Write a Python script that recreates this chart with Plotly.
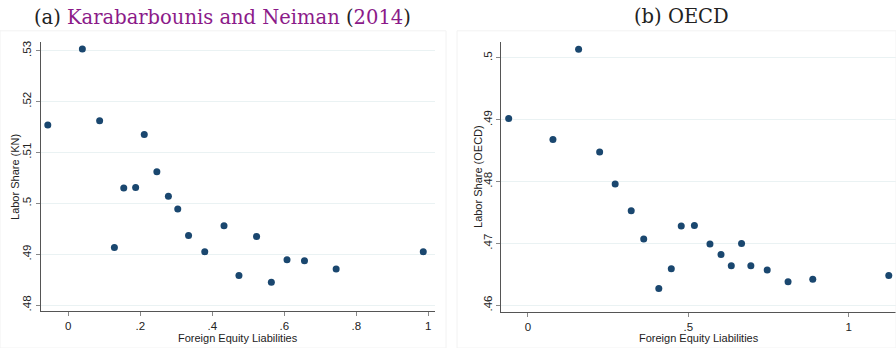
import plotly.graph_objects as go

# Panel (a): Karabarbounis and Neiman (2014)
kn_x = [-0.057, 0.039, 0.087, 0.211, 0.246, 0.154, 0.187, 0.278, 0.304, 0.128,
        0.334, 0.379, 0.4325, 0.474, 0.523, 0.564, 0.6075, 0.656, 0.744, 0.986]
kn_y = [0.5154, 0.5303, 0.5162, 0.5135, 0.5062, 0.5030, 0.5031, 0.5014, 0.4989, 0.4913,
        0.4937, 0.4905, 0.4956, 0.4858, 0.4935, 0.4845, 0.4889, 0.4887, 0.4871, 0.4905]

# Panel (b): OECD
oecd_x = [-0.060, 0.158, 0.078, 0.2236, 0.272, 0.322, 0.361, 0.408, 0.447, 0.478,
          0.519, 0.5675, 0.602, 0.634, 0.666, 0.695, 0.746, 0.811, 0.888, 1.125]
oecd_y = [0.4902, 0.5014, 0.4868, 0.4848, 0.4796, 0.4753, 0.4707, 0.4627, 0.4659, 0.4728,
          0.4729, 0.4699, 0.4682, 0.4664, 0.4700, 0.4664, 0.4657, 0.4638, 0.4642, 0.4648]

kn_xticks = [0, 0.2, 0.4, 0.6, 0.8, 1]
kn_xticktext = ["0", ".2", ".4", ".6", ".8", "1"]
kn_yticks = [0.48, 0.49, 0.50, 0.51, 0.52, 0.53]
kn_yticktext = [".48", ".49", ".5", ".51", ".52", ".53"]

oecd_xticks = [0, 0.5, 1]
oecd_xticktext = ["0", ".5", "1"]
oecd_yticks = [0.46, 0.47, 0.48, 0.49, 0.50]
oecd_yticktext = [".46", ".47", ".48", ".49", ".5"]

x_title = "Foreign Equity Liabilities"
kn_y_title = "Labor Share (KN)"
oecd_y_title = "Labor Share (OECD)"

MARK = "#1a476f"
GRID = "#eaf2f3"
FONT = "Liberation Sans"
TXT = "#222222"

fig = go.Figure()
fig.add_trace(go.Scatter(x=kn_x, y=kn_y, mode="markers", xaxis="x", yaxis="y",
                         marker=dict(color=MARK, size=7), showlegend=False))
fig.add_trace(go.Scatter(x=oecd_x, y=oecd_y, mode="markers", xaxis="x2", yaxis="y2",
                         marker=dict(color=MARK, size=7), showlegend=False))

W, H = 896, 348
ax_common = dict(showline=True, linecolor="#555555", linewidth=1.2, ticks="outside",
                 ticklen=4, tickcolor="#888888", zeroline=False,
                 tickfont=dict(family=FONT, size=11.5, color=TXT))

fig.update_layout(
    width=W, height=H, margin=dict(l=0, r=0, t=0, b=0),
    paper_bgcolor="white", plot_bgcolor="white",
    xaxis=dict(domain=[40.7 / W, 435 / W], range=[-0.0767, 1.0186],
               tickvals=kn_xticks, ticktext=kn_xticktext, showgrid=False,
               anchor="y", **ax_common),
    yaxis=dict(domain=[(H - 311) / H, (H - 40.7) / H], range=[0.4788, 0.5316],
               tickvals=kn_yticks, ticktext=kn_yticktext, tickangle=-90,
               showgrid=True, gridcolor=GRID, gridwidth=1, anchor="x",
               **ax_common),
    xaxis2=dict(domain=[501.3 / W, 1.0], range=[-0.083, 1.1475],
                tickvals=oecd_xticks, ticktext=oecd_xticktext, showgrid=False,
                anchor="y2", **ax_common),
    yaxis2=dict(domain=[(H - 311.7) / H, (H - 40.7) / H], range=[0.45892, 0.5025],
                tickvals=oecd_yticks, ticktext=oecd_yticktext, tickangle=-90,
                showgrid=True, gridcolor=GRID, gridwidth=1, anchor="x2",
                **ax_common),
)

def pa(text, px, py, angle=0, size=11, family=FONT):
    fig.add_annotation(xref="paper", yref="paper", x=px / W, y=1 - py / H,
                       xanchor="center", yanchor="middle", showarrow=False,
                       text=text, textangle=angle,
                       font=dict(family=family, size=size, color=TXT))

# axis titles
pa(x_title, 237.5, 337.5)
pa(x_title, 698.5, 337.5)
pa(kn_y_title, 15, 176, angle=-90)
pa(oecd_y_title, 478, 176, angle=-90)

PURPLE = "#8b1a89"
pa(("(a) <span style='color:%s'>Karabarbounis and Neiman</span> "
    "(<span style='color:%s'>2014</span>)") % (PURPLE, PURPLE),
   222, 16, size=19.5, family="DejaVu Serif")
pa("(b) OECD", 681, 15, size=19.5, family="DejaVu Serif")

# faint panel frames
fig.add_shape(type="rect", xref="paper", yref="paper", x0=0, x1=446 / W,
              y0=0, y1=1 - 29 / H, line=dict(color="#f2f2f2", width=1))
fig.add_shape(type="rect", xref="paper", yref="paper", x0=457 / W, x1=1,
              y0=0, y1=1 - 29 / H, line=dict(color="#f2f2f2", width=1))

fig.write_html("out.html", config={"displayModeBar": False},
               post_script="document.body.style.margin='0';document.body.style.overflow='hidden';")
